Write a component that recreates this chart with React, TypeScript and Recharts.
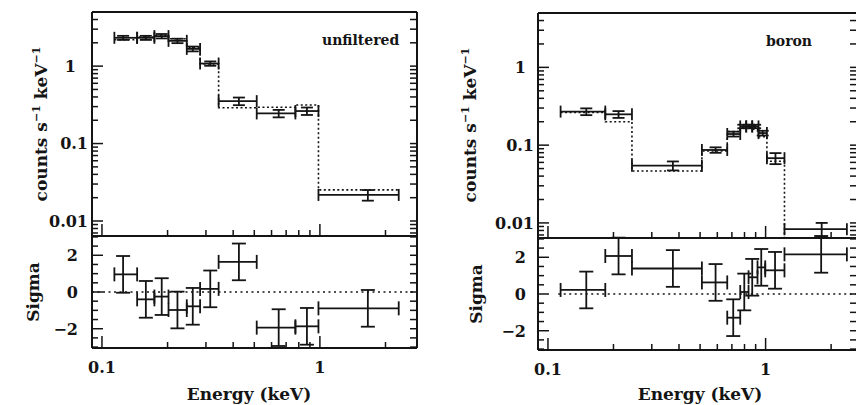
import React from "react";
import { ComposedChart, Scatter, Line, XAxis, YAxis, ErrorBar } from "recharts";

const INK = "#141414";
const FONT = "'DejaVu Serif', 'Liberation Serif', serif";

// ---- axes ----
const energyDomainLeft = [0.09, 2.79];
const energyDomainRight = [0.09, 2.63];
const rateDomain = [0.0064, 5];
const sigmaDomain = [-3.05, 3.05];

const xTickValues = [0.1, 0.2, 0.3, 0.4, 0.5, 0.6, 0.7, 0.8, 0.9, 1, 2];
const xLabelled = [0.1, 1];

const rateTickValues = [
    0.007, 0.008, 0.009, 0.01, 0.02, 0.03, 0.04, 0.05, 0.06, 0.07, 0.08, 0.09,
    0.1, 0.2, 0.3, 0.4, 0.5, 0.6, 0.7, 0.8, 0.9, 1, 2, 3, 4, 5,
];
const rateLabelled = [0.01, 0.1, 1];

const sigmaTickValues = [-3, -2.5, -2, -1.5, -1, -0.5, 0, 0.5, 1, 1.5, 2, 2.5, 3];
const sigmaLabelled = [-2, 0, 2];

// ---- unfiltered ----
const unfEdges = [0.114, 0.145, 0.174, 0.202, 0.245, 0.282, 0.343, 0.513, 0.772, 0.985, 2.3];
const unfCenters = [0.125, 0.159, 0.188, 0.222, 0.261, 0.314, 0.425, 0.647, 0.872, 1.66];
const unfRate = [2.32, 2.32, 2.44, 2.12, 1.67, 1.08, 0.353, 0.245, 0.263, 0.0217];
const unfRateErr = [0.14, 0.14, 0.16, 0.14, 0.12, 0.07, 0.04, 0.027, 0.029, 0.0034];
const unfModel = [2.19, 2.38, 2.48, 2.26, 1.76, 1.07, 0.29, 0.295, 0.315, 0.0252];
const unfSigma = [0.96, -0.4, -0.25, -0.98, -0.78, 0.17, 1.64, -1.94, -1.87, -0.89];
const unfSigmaErr = [1, 1, 1, 1, 1, 1, 1, 1, 1, 1];
const unfZero = [0.09, 2.79];

// ---- boron ----
const borEdges = [0.1143, 0.1834, 0.2432, 0.5097, 0.6664, 0.7646, 0.8146, 0.868, 0.9277, 1.014, 1.221, 2.363];
const borCenters = [0.15, 0.211, 0.375, 0.589, 0.712, 0.79, 0.84, 0.895, 0.97, 1.11, 1.81];
const borRate = [0.27, 0.249, 0.0545, 0.0867, 0.139, 0.174, 0.174, 0.174, 0.143, 0.068, 0.0083];
const borRateErr = [0.027, 0.025, 0.0072, 0.007, 0.01, 0.009, 0.009, 0.009, 0.01, 0.011, 0.0017];
const borModel = [0.264, 0.2, 0.0466, 0.084, 0.15, 0.172, 0.166, 0.16, 0.128, 0.062, 0.0048];
const borSigEdges = [0.1143, 0.1834, 0.2432, 0.5097, 0.6664, 0.7646, 0.835, 0.918, 0.996, 1.221, 2.363];
const borSigCenters = [0.15, 0.211, 0.375, 0.589, 0.71, 0.798, 0.868, 0.955, 1.105, 1.8];
const borSigma = [0.22, 2.07, 1.39, 0.63, -1.29, 0.11, 0.91, 1.45, 1.29, 2.16];
const borSigmaErr = [1, 1, 1, 1, 1, 1, 1, 1, 1, 1];
const borZero = [0.1115, 2.63];

const points = (centers: number[], edges: number[], vals: number[], errs: number[]) =>
    centers.map((c, i) => ({ x: c, y: vals[i], xe: [c - edges[i], edges[i + 1] - c], ye: errs[i] }));

const steps = (edges: number[], vals: number[]) => [
    ...vals.map((v, i) => ({ x: edges[i], y: v })),
    { x: edges[edges.length - 1], y: vals[vals.length - 1] },
];

const frameLine = { stroke: INK, strokeWidth: 2 };

const xTick = (side: "bottom" | "top", labels: boolean) => (p: any) => {
    const v = p.payload.value;
    const major = xLabelled.includes(v);
    const len = major ? 12 : 6;
    const d = side === "bottom" ? -1 : 1;
    return (
        <g>
            <line x1={p.x} x2={p.x} y1={p.y} y2={p.y + d * len} stroke={INK} strokeWidth={1.5} />
            {labels && major && (
                <text x={p.x} y={p.y + 25} textAnchor="middle" fontFamily={FONT} fontWeight="bold" fontSize={16} fill={INK}>
                    {String(v)}
                </text>
            )}
        </g>
    );
};

const yTick = (side: "left" | "right", labelled: number[], gap: (v: number) => number | null) => (p: any) => {
    const v = p.payload.value;
    const major = labelled.includes(v);
    const len = side === "left" ? (major ? 11 : 6) : 7;
    const d = side === "left" ? 1 : -1;
    const g = side === "left" && major ? gap(v) : null;
    return (
        <g>
            <line x1={p.x} x2={p.x + d * len} y1={p.y} y2={p.y} stroke={INK} strokeWidth={1.5} />
            {g !== null && (
                <text x={p.x - g} y={p.y + 5.8} textAnchor="end" fontFamily={FONT} fontWeight="bold" fontSize={16} fill={INK}>
                    {v < 0 ? "\u2212" + -v : String(v)}
                </text>
            )}
        </g>
    );
};

interface SubplotProps {
    left: number;
    top: number;
    w: number;
    h: number;
    xDomain: number[];
    log: boolean;
    domain: number[];
    ticks: number[];
    labelled: number[];
    gap: (v: number) => number | null;
    xLabels: boolean;
    pts: any[];
    cap: number;
    model?: any[];
    zero?: number[];
}

function Subplot(props: SubplotProps) {
    const M = 70;
    const yScale = props.log ? "log" : "linear";
    return (
        <div style={{ position: "absolute", left: props.left - M, top: props.top - M }}>
            <ComposedChart
                width={props.w + 2 * M}
                height={props.h + 2 * M}
                margin={{ top: M - 1, right: M - 1, bottom: M - 1, left: M - 1 }}
            >
                <XAxis xAxisId="b" dataKey="x" type="number" scale="log" domain={props.xDomain} allowDataOverflow
                    orientation="bottom" height={1} ticks={xTickValues} interval={0} tickSize={0} tickMargin={0}
                    tickLine={false} axisLine={frameLine} tick={xTick("bottom", props.xLabels)} />
                <XAxis xAxisId="t" type="number" scale="log" domain={props.xDomain} allowDataOverflow
                    orientation="top" height={1} ticks={xTickValues} interval={0} tickSize={0} tickMargin={0}
                    tickLine={false} axisLine={frameLine} tick={xTick("top", false)} />
                <YAxis yAxisId="l" dataKey="y" type="number" scale={yScale} domain={props.domain} allowDataOverflow
                    orientation="left" width={1} ticks={props.ticks} interval={0} tickSize={0} tickMargin={0}
                    tickLine={false} axisLine={frameLine} tick={yTick("left", props.labelled, props.gap)} />
                <YAxis yAxisId="r" type="number" scale={yScale} domain={props.domain} allowDataOverflow
                    orientation="right" width={1} ticks={props.ticks} interval={0} tickSize={0} tickMargin={0}
                    tickLine={false} axisLine={frameLine} tick={yTick("right", props.labelled, props.gap)} />
                {props.zero && (
                    <Line xAxisId="b" yAxisId="l" data={props.zero.map((x) => ({ x, y: 0 }))} dataKey="y"
                        stroke={INK} strokeWidth={1.5} strokeDasharray="2 3.5" dot={false} isAnimationActive={false} />
                )}
                {props.model && (
                    <Line xAxisId="b" yAxisId="l" data={props.model} dataKey="y" type="stepAfter"
                        stroke={INK} strokeWidth={1.6} strokeDasharray="2 2.5" dot={false} isAnimationActive={false} />
                )}
                <Scatter xAxisId="b" yAxisId="l" data={props.pts} dataKey="y" shape={() => <g />} isAnimationActive={false}>
                    <ErrorBar dataKey="xe" direction="x" width={props.cap} stroke={INK} strokeWidth={1.8} isAnimationActive={false} />
                    <ErrorBar dataKey="ye" direction="y" width={props.cap} stroke={INK} strokeWidth={1.8} isAnimationActive={false} />
                </Scatter>
            </ComposedChart>
        </div>
    );
}

const titleStyle = { fontFamily: FONT, fontWeight: "bold" as const, fill: INK };

function RateTitle({ x, y }: { x: number; y: number }) {
    return (
        <text transform={`translate(${x},${y}) rotate(-90)`} textAnchor="middle" fontSize={17} {...titleStyle}>
            counts s<tspan dy={-7} fontSize={11}>{"\u22121"}</tspan>
            <tspan dy={7}> keV</tspan>
            <tspan dy={-7} fontSize={11}>{"\u22121"}</tspan>
        </text>
    );
}

export default function App() {
    const rateGapL = (v: number) => (v === 1 ? 16 : 4);
    const rateGapR = (v: number) => (v === 1 ? 12 : 4);
    const sigGapL = () => 14;
    const sigGapR = () => 12;
    return (
        <div style={{ position: "absolute", left: 0, top: 0, width: 856, height: 405, overflow: "hidden", background: "#fff" }}>
            {/* unfiltered */}
            <Subplot left={92} top={12} w={325} h={224} xDomain={energyDomainLeft} log domain={rateDomain}
                ticks={rateTickValues} labelled={rateLabelled} gap={rateGapL} xLabels={false} cap={6}
                pts={points(unfCenters, unfEdges, unfRate, unfRateErr)} model={steps(unfEdges, unfModel)} />
            <Subplot left={92} top={236} w={325} h={112} xDomain={energyDomainLeft} log={false} domain={sigmaDomain}
                ticks={sigmaTickValues} labelled={sigmaLabelled} gap={sigGapL} xLabels cap={7}
                pts={points(unfCenters, unfEdges, unfSigma, unfSigmaErr)} zero={unfZero} />

            {/* boron */}
            <Subplot left={538} top={13} w={319} h={225} xDomain={energyDomainRight} log domain={rateDomain}
                ticks={rateTickValues} labelled={rateLabelled} gap={rateGapR} xLabels={false} cap={6}
                pts={points(borCenters, borEdges, borRate, borRateErr)} model={steps(borEdges, borModel)} />
            <Subplot left={538} top={238} w={319} h={112} xDomain={energyDomainRight} log={false} domain={sigmaDomain}
                ticks={sigmaTickValues} labelled={sigmaLabelled} gap={sigGapR} xLabels cap={7}
                pts={points(borSigCenters, borSigEdges, borSigma, borSigmaErr)} zero={borZero} />

            <svg width={856} height={405} style={{ position: "absolute", left: 0, top: 0, pointerEvents: "none" }}>
                <RateTitle x={46.5} y={124} />
                <RateTitle x={476} y={125} />
                <text transform="translate(39,292) rotate(-90)" textAnchor="middle" fontSize={17} {...titleStyle}>Sigma</text>
                <text transform="translate(482,294) rotate(-90)" textAnchor="middle" fontSize={17} {...titleStyle}>Sigma</text>
                <text x={249} y={400} textAnchor="middle" fontSize={17} {...titleStyle}>Energy (keV)</text>
                <text x={700} y={400} textAnchor="middle" fontSize={17} {...titleStyle}>Energy (keV)</text>
                <text x={322} y={45} fontSize={14} {...titleStyle}>unfiltered</text>
                <text x={766} y={46} fontSize={14} {...titleStyle}>boron</text>
            </svg>
        </div>
    );
}
